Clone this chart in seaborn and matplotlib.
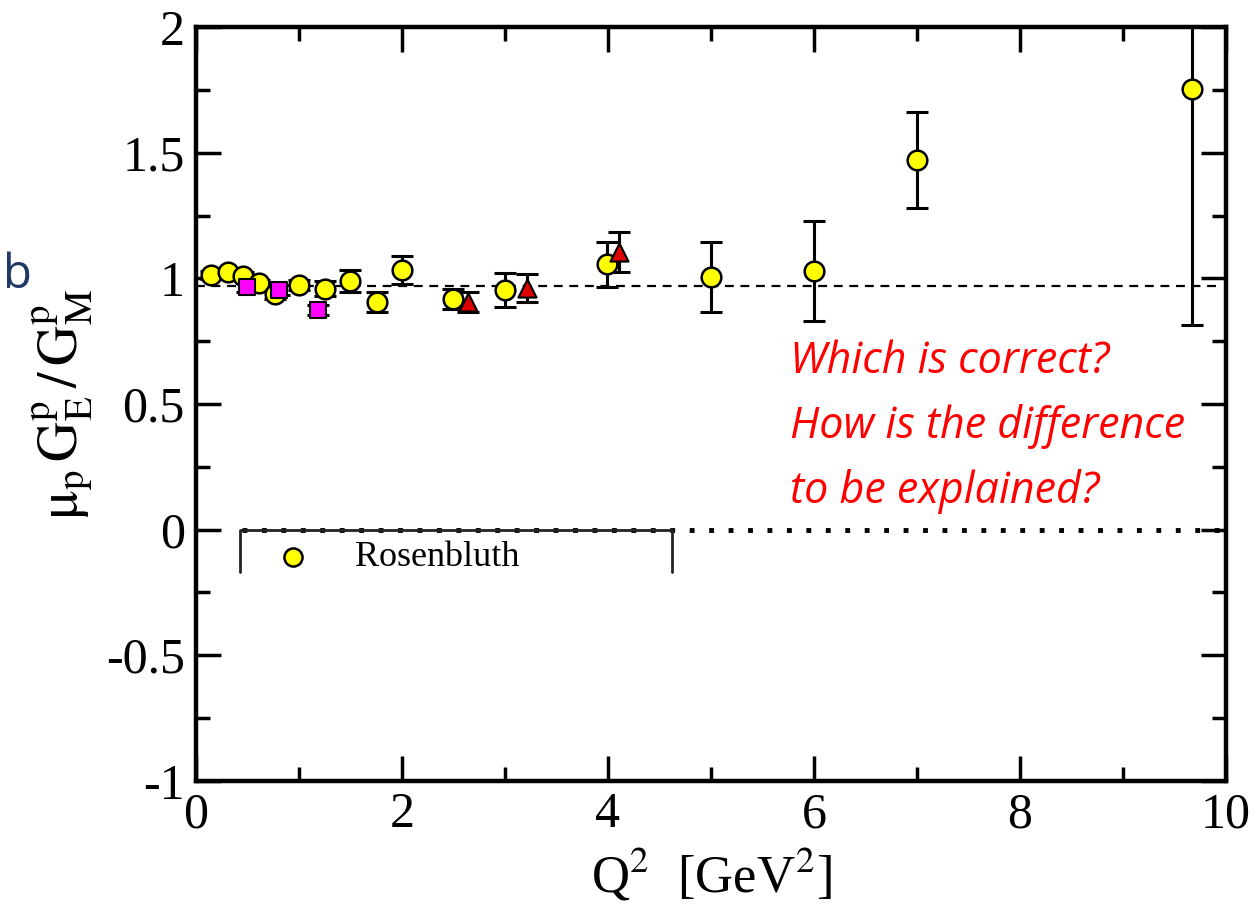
import numpy as np
import pandas as pd
import matplotlib
matplotlib.use("Agg")
import matplotlib.pyplot as plt
import seaborn as sns

# Rosenbluth ratio data
ros_q2 = [0.15, 0.31, 0.46, 0.61, 0.77, 1.0, 1.25, 1.5, 1.76, 2.0, 2.5, 3.0, 3.99, 5.0, 6.0, 7.0, 9.67]
ros_val = [1.013, 1.025, 1.01, 0.98, 0.94, 0.974, 0.96, 0.99, 0.906, 1.033, 0.918, 0.954, 1.057, 1.005, 1.03, 1.471, 1.754]
ros_err = [0.015, 0.015, 0.015, 0.015, 0.02, 0.02, 0.03, 0.045, 0.04, 0.055, 0.04, 0.068, 0.09, 0.14, 0.2, 0.19, 0.94]

# magenta squares
sq_q2 = [0.495, 0.805, 1.19]
sq_val = [0.966, 0.954, 0.874]
sq_err = [0.02, 0.02, 0.02]

# red triangles
tri_q2 = [2.64, 3.21, 4.11]
tri_val = [0.906, 0.962, 1.105]
tri_err = [0.04, 0.054, 0.078]

ref_level = 0.97

sns.set_theme(style="ticks")
plt.rcParams["font.family"] = ["Liberation Serif", "DejaVu Serif"]
plt.rcParams["mathtext.fontset"] = "stix"
plt.rcParams["text.color"] = "black"
plt.rcParams["axes.labelcolor"] = "black"
plt.rcParams["xtick.color"] = "black"
plt.rcParams["ytick.color"] = "black"

fig = plt.figure(figsize=(12.56, 9.09), dpi=100)
ax = fig.add_axes([0.156, 0.141, 0.820, 0.829])

# dashed reference line
ax.plot([0, 9.9], [ref_level, ref_level], color="black", lw=1.6,
        ls=(0, (4, 3)), zorder=1)

ebar = dict(fmt="none", ecolor="black", elinewidth=2.2, capsize=8, capthick=2.2, zorder=2)
ax.errorbar(ros_q2, ros_val, yerr=ros_err, **ebar)
ax.errorbar(sq_q2, sq_val, yerr=sq_err, **ebar)
ax.errorbar(tri_q2, tri_val, yerr=tri_err, **ebar)

df_ros = pd.DataFrame({"q2": ros_q2, "val": ros_val})
df_sq = pd.DataFrame({"q2": sq_q2, "val": sq_val})
df_tri = pd.DataFrame({"q2": tri_q2, "val": tri_val})

sns.scatterplot(data=df_ros, x="q2", y="val", ax=ax, marker="o", s=200,
                color="#ffff00", edgecolor="black", linewidth=1.8, zorder=3)
sns.scatterplot(data=df_sq, x="q2", y="val", ax=ax, marker="s", s=130,
                color="#ff00ff", edgecolor="black", linewidth=1.5, zorder=4)
sns.scatterplot(data=df_tri, x="q2", y="val", ax=ax, marker="^", s=170,
                color="#dd0000", edgecolor="black", linewidth=1.5, zorder=4)

# dotted zero line and legend box
ax.plot([0.45, 10], [0, 0], color="black", lw=3.5, ls=(0, (1, 3)), zorder=2)
ax.plot([0.43, 0.43, 4.62, 4.62], [-0.17, 0, 0, -0.17], color="#222222", lw=2, zorder=2)
ax.scatter([0.94], [-0.11], s=170, color="#ffff00", edgecolor="black", linewidth=1.8, zorder=3)
ax.text(1.54, -0.11, "Rosenbluth", fontsize=26, va="center", ha="left")

ax.set_xlim(0, 10)
ax.set_ylim(-1, 2)
ax.set_xticks([0, 2, 4, 6, 8, 10])
ax.set_xticks([1, 3, 5, 7, 9], minor=True)
ax.set_yticks([-1, -0.5, 0, 0.5, 1, 1.5, 2])
ax.set_yticklabels(["-1", "-0.5", "0", "0.5", "1", "1.5", "2"])
ax.set_yticks(np.arange(-0.75, 2, 0.5), minor=True)
ax.tick_params(which="both", direction="in", top=True, right=True,
               labelsize=36, width=2.5, pad=8, color="black", labelcolor="black")
ax.tick_params(which="major", length=18)
ax.tick_params(which="minor", length=10)
for sp in ax.spines.values():
    sp.set_linewidth(3.2)
    sp.set_color("black")

ax.set_xlabel(r"Q$^2$  [GeV$^2$]", fontsize=38, labelpad=6)
ax.set_ylabel(r"$\mathrm{μ}_{\rm p}\,{\rm G}^{\rm p}_{\rm E}\,/\,{\rm G}^{\rm p}_{\rm M}$",
              fontsize=40, labelpad=8)

ax.text(5.77, 0.41, "Which is correct?\nHow is the difference\nto be explained?",
        color="red", fontsize=31, style="italic", family=["Open Sans", "DejaVu Sans"],
        linespacing=1.6, ha="left", va="center")

fig.text(0.002, 0.697, "b", color="#1f3864", fontsize=34,
         family=["Open Sans", "DejaVu Sans"], ha="left", va="center")

fig.savefig("out.png", dpi=100)
